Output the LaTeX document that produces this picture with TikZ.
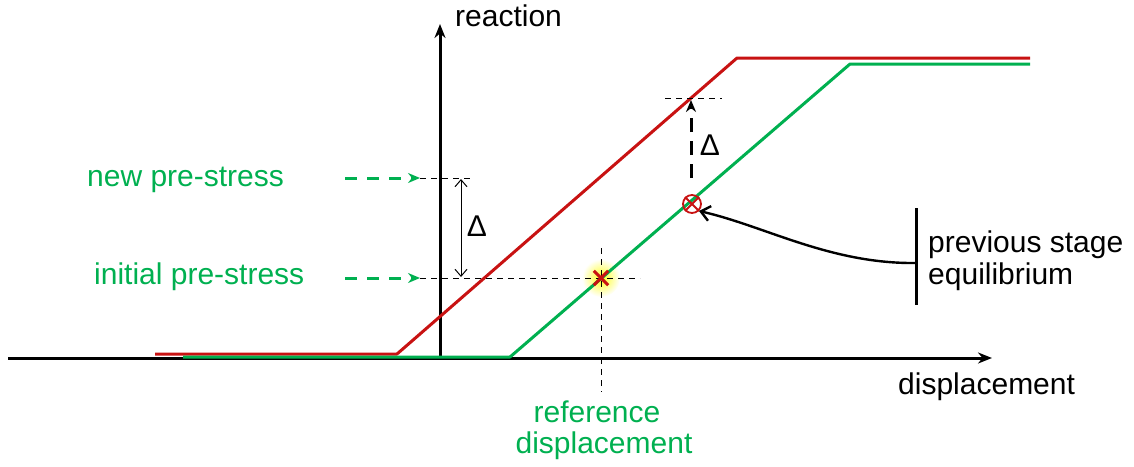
\documentclass[tikz,border=0pt]{standalone}
\usepackage{fontspec}
\setmainfont{Liberation Sans}
\usetikzlibrary{arrows.meta, positioning, calc}
\definecolor{stagered}{RGB}{200,18,18}
\definecolor{stagegreen}{RGB}{0,176,80}

\begin{document}
\begin{tikzpicture}[x=1pt, y=-1pt,
  axis/.style={line width=3pt, -{Stealth[length=14pt, width=11pt]}},
  law/.style={line width=3pt, line join=round},
  guide/.style={line width=1pt, dash pattern=on 6pt off 5pt},
  feed/.style={stagegreen, line width=3pt, dash pattern=on 12pt off 10pt, -{Stealth[length=12pt, width=10pt]}},
  lbl/.style={font=\fontsize{30}{34}\selectfont, inner sep=0pt},
  glbl/.style={lbl, text=stagegreen}
]
  \useasboundingbox (0,0) rectangle (1134,466);

  % Axes
  \coordinate (xs) at (8,358);
  \coordinate (xe) at (992,358);
  \coordinate (o) at (440,358);
  \coordinate (ye) at (440,24);
  \shade[inner color=yellow!90, outer color=white] (601,278) circle (19);
  \draw[axis] (xs) -- (xe);
  \draw[axis] (o) -- (ye);
  \node[lbl, anchor=mid west] (react) at (455,24) {reaction};
  \node[lbl, anchor=mid west] (disp) at (898,392) {displacement};

  % Reaction laws
  \draw[law, stagered] (155,354) -- (397,354) -- (737,58) -- (1030,58);
  \draw[law, stagegreen] (183,357) -- (510,357) -- (850,64) -- (1030,64);

  % Pre-stress levels
  \coordinate (n0) at (420,178);
  \coordinate (n1) at (472,178);
  \coordinate (i0) at (420,278);
  \coordinate (i1) at (640,278);
  \coordinate (r0) at (601,248);
  \coordinate (r1) at (601,392);
  \draw[guide] (n0) -- (n1);
  \draw[guide] (i0) -- (i1);
  \draw[guide] (r0) -- (r1);
  \node[glbl, anchor=mid west] (newps) at (87,184) {new pre-stress};
  \node[glbl, anchor=mid west] (inips) at (94,282) {initial pre-stress};
  \draw[feed] (345,178) -- (n0);
  \draw[feed] (345,278) -- (i0);
  \draw[line width=1pt, {Straight Barb[length=7pt, width=12pt]}-{Straight Barb[length=7pt, width=12pt]}]
    (461,179) -- (461,277);
  \node[lbl] (d1) at (477,226) {Δ};
  \node[glbl, anchor=mid] (ref1) at (597,420) {reference};
  \node[glbl, anchor=mid] (ref2) at (604,451) {displacement};

  % Reference point
  \node[inner sep=0pt, minimum size=14pt] (star) at (601,278) {};
  \draw[stagered, line width=3pt] (star.north west) -- (star.south east)
    (star.north east) -- (star.south west);

  % Previous stage
  \coordinate (t0) at (665,98);
  \coordinate (t1) at (722,98);
  \draw[guide] (t0) -- (t1);
  \node[circle, draw=stagered, line width=1.8pt, minimum size=18pt, inner sep=0pt] (prev) at (692,204) {};
  \draw[stagered, line width=1.8pt] (prev.north west) -- (prev.south east)
    (prev.north east) -- (prev.south west);
  \draw[line width=3pt, dash pattern=on 14pt off 9pt, -{Stealth[length=12pt, width=10pt]}]
    (691,178) -- (691,100);
  \node[lbl] (d2) at (710,145) {Δ};
  \coordinate (b0) at (916,208);
  \coordinate (b1) at (916,305);
  \coordinate (bm) at (916,263);
  \draw[line width=3pt] (b0) -- (b1);
  \draw[line width=2.4pt, -{Straight Barb[length=9pt, width=15pt]}]
    (bm) .. controls (830,264) and (765,226) .. (prev.south east);
  \node[lbl, anchor=mid west] (eq1) at (928,250) {previous stage};
  \node[lbl, anchor=mid west] (eq2) at (928,282) {equilibrium};
\end{tikzpicture}
\end{document}
